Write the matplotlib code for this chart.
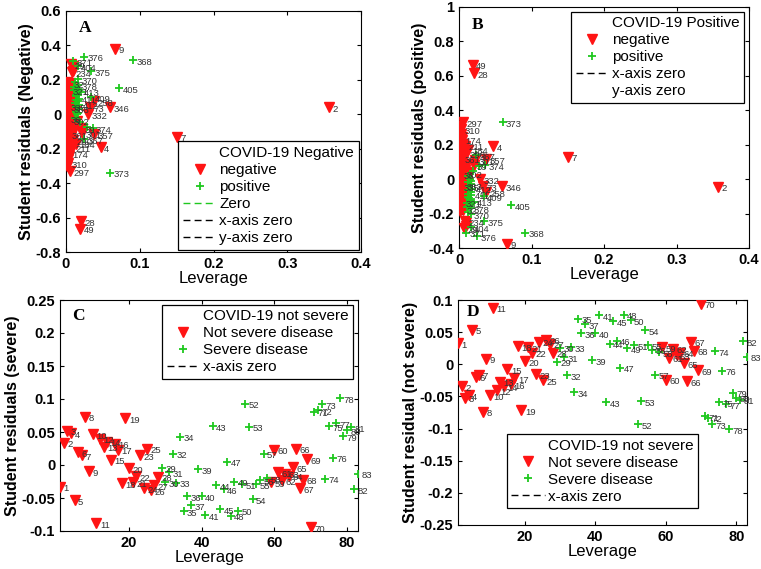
import matplotlib.pyplot as plt
from matplotlib.lines import Line2D
from matplotlib.ticker import FormatStrFormatter

plt.rcParams['font.family'] = ['Liberation Sans', 'DejaVu Sans']

RED = '#ff1414'
GREEN = '#1fc81f'

# ---- Panel A : COVID-19 negative (leverage, residual, label)
a_neg_x = [0.066, 0.357, 0.150, 0.047, 0.021, 0.019, 0.060, 0.038, 0.030, 0.038, 0.005, 0.003,
           0.004, 0.008, 0.007, 0.033, 0.020, 0.022, 0.010, 0.013, 0.008,
           0.002, 0.005, 0.003, 0.007, 0.002, 0.004, 0.006, 0.002, 0.005, 0.003, 0.008, 0.002,
           0.004, 0.006, 0.002, 0.005, 0.003, 0.007, 0.002, 0.004, 0.006, 0.002, 0.005, 0.003,
           0.008, 0.002, 0.004, 0.006, 0.002, 0.005, 0.003, 0.007, 0.002, 0.004, 0.006, 0.002,
           0.003, 0.005, 0.002, 0.004, 0.003, 0.002, 0.012, 0.015, 0.011, 0.010, 0.009]
a_neg_y = [0.380, 0.040, -0.130, -0.190, -0.620, -0.665, 0.040, 0.075, 0.000, -0.115, -0.330, -0.285,
           -0.225, 0.245, 0.290, 0.040, -0.080, -0.110, -0.150, -0.170, -0.195,
           0.190, 0.180, 0.168, 0.158, 0.150, 0.138, 0.128, 0.118, 0.105, 0.096, 0.086, 0.075,
           0.066, 0.055, 0.046, 0.035, 0.024, 0.015, 0.006, -0.004, -0.014, -0.025, -0.034, -0.046,
           -0.055, -0.066, -0.075, -0.086, -0.096, -0.108, -0.118, -0.126, -0.138, -0.148, -0.160, -0.172,
           -0.185, -0.205, -0.215, -0.245, -0.262, -0.300, 0.020, -0.040, -0.090, 0.250, 0.280]
a_neg_lab = ['9', '2', '7', '4', '28', '49', '346', '258', '332', '357', '297', '310',
             '174', '234', '29', '73', '39', '301', '290', '184', '211',
             '', '32', '', '', '', '321', '', '', '', '', '', '',
             '', '', '335', '383', '', '', '', '', '', '36', '302', '',
             '', '', '', '', '', '', '361', '', '', '', '', '',
             '', '', '', '', '', '', '', '', '', '', '']
a_pos_x = [0.025, 0.091, 0.010, 0.016, 0.034, 0.016, 0.016, 0.020, 0.072, 0.034, 0.036, 0.060,
           0.024, 0.017, 0.018,
           0.012, 0.014, 0.011, 0.015, 0.013, 0.016, 0.012, 0.014, 0.017, 0.013, 0.015, 0.012,
           0.019, 0.028, 0.014, 0.011, 0.018, 0.013, 0.016]
a_pos_y = [0.335, 0.315, 0.310, 0.280, 0.250, 0.205, 0.170, 0.130, 0.150, 0.100, -0.080, -0.340,
           -0.145, 0.090, 0.055,
           0.190, 0.155, 0.140, 0.120, 0.105, 0.075, 0.065, 0.040, 0.030, 0.015, 0.000, -0.020,
           -0.045, -0.075, 0.110, 0.160, 0.140, 0.085, 0.010]
a_pos_lab = ['376', '368', '371', '404', '375', '370', '378', '413', '405', '409', '374', '373',
             '367', '411', '412',
             '', '', '', '', '', '', '', '', '', '', '', '',
             '', '', '', '', '', '', '']

# ---- Panel B : COVID-19 positive
b_neg_x = [0.066, 0.357, 0.150, 0.047, 0.021, 0.019, 0.059, 0.037, 0.029, 0.037, 0.005, 0.003,
           0.004, 0.008, 0.007, 0.033, 0.020, 0.022, 0.010, 0.013, 0.008,
           0.002, 0.005, 0.003, 0.007, 0.002, 0.004, 0.006, 0.002, 0.005, 0.003, 0.008, 0.002,
           0.004, 0.006, 0.002, 0.005, 0.003, 0.007, 0.002, 0.004, 0.006, 0.002, 0.005, 0.003,
           0.008, 0.002, 0.004, 0.006, 0.002, 0.005, 0.003, 0.007, 0.002, 0.004, 0.006, 0.002,
           0.003, 0.005, 0.002, 0.004, 0.003, 0.002, 0.012, 0.015, 0.011, 0.010, 0.009]
b_neg_y = [-0.375, -0.045, 0.130, 0.190, 0.615, 0.665, -0.040, -0.075, 0.000, 0.115, 0.330, 0.290,
           0.230, -0.245, -0.285, -0.040, 0.080, 0.110, 0.150, 0.170, 0.195,
           -0.185, -0.178, -0.165, -0.155, -0.148, -0.136, -0.125, -0.116, -0.104, -0.094, -0.085, -0.074,
           -0.065, -0.054, -0.045, -0.034, -0.023, -0.014, -0.005, 0.005, 0.015, 0.026, 0.035, 0.047,
           0.056, 0.067, 0.076, 0.087, 0.097, 0.109, 0.119, 0.127, 0.139, 0.149, 0.161, 0.173,
           0.186, 0.206, 0.216, 0.246, 0.263, 0.310, -0.020, 0.040, 0.090, -0.250, -0.275]
b_neg_lab = ['9', '2', '7', '4', '28', '49', '346', '258', '332', '357', '297', '310',
             '174', '234', '29', '73', '39', '301', '290', '184', '211',
             '', '32', '', '', '', '321', '', '', '', '', '', '',
             '', '', '335', '383', '', '', '', '', '', '36', '302', '',
             '', '', '', '', '', '', '361', '', '', '', '', '',
             '', '', '', '', '', '', '', '', '', '', '']
b_pos_x = [0.025, 0.091, 0.010, 0.016, 0.034, 0.016, 0.016, 0.020, 0.072, 0.034, 0.036, 0.060,
           0.024, 0.017, 0.018,
           0.012, 0.014, 0.011, 0.015, 0.013, 0.016, 0.012, 0.014, 0.017, 0.013, 0.015, 0.012,
           0.019, 0.028, 0.014, 0.011, 0.018, 0.013, 0.016]
b_pos_y = [-0.330, -0.310, -0.310, -0.280, -0.245, -0.205, -0.170, -0.130, -0.150, -0.100, 0.080, 0.330,
           0.140, -0.090, -0.055,
           -0.190, -0.155, -0.140, -0.120, -0.105, -0.075, -0.065, -0.040, -0.030, -0.015, 0.000, 0.020,
           0.045, 0.075, -0.110, -0.160, -0.140, -0.085, -0.010]
b_pos_lab = ['376', '368', '371', '404', '375', '370', '378', '413', '405', '409', '374', '373',
             '367', '411', '412',
             '', '', '', '', '', '', '', '', '', '', '', '',
             '', '', '', '', '', '', '']

# ---- Panels C and D : severity, observation number on x
cd_neg_idx = [1, 2, 3, 4, 5, 6, 7, 8, 9, 10, 11, 12, 13, 14, 15, 16, 17, 18, 19, 20,
              21, 22, 23, 24, 25, 26, 27, 28, 59, 60, 61, 62, 63, 64, 65, 66, 67, 68, 69, 70]
cd_pos_idx = [29, 30, 31, 32, 33, 34, 35, 36, 37, 39, 40, 41, 43, 44, 45, 46, 47, 48, 49, 50,
              51, 52, 53, 54, 55, 56, 57, 58, 71, 72, 73, 74, 75, 76, 77, 78, 79, 80, 81, 82, 83]
c_neg_y = [-0.033, 0.034, 0.052, 0.048, -0.053, 0.019, 0.015, 0.073, -0.009, 0.047,
           -0.088, 0.040, 0.028, 0.035, 0.008, 0.032, 0.023, -0.028, 0.071, -0.005,
           -0.026, -0.017, 0.015, -0.035, 0.025, -0.038, -0.031, -0.018,
           -0.026, 0.023, -0.011, -0.023, -0.013, -0.016, -0.003, 0.025, -0.035, -0.022, 0.009, -0.094]
c_pos_y = [-0.004, -0.026, -0.011, 0.017, -0.027, 0.043, -0.070, -0.047, -0.061, -0.006,
           -0.047, -0.076, 0.059, -0.031, -0.067, -0.037, 0.005, -0.077, -0.025, -0.069,
           -0.029, 0.093, 0.058, -0.052, -0.029, -0.023, 0.017, -0.020,
           0.081, 0.083, 0.092, -0.021, 0.059, 0.011, 0.063, 0.101, 0.044, 0.053, 0.057, -0.037, -0.013]
d_neg_y = [0.033, -0.034, -0.052, -0.048, 0.054, -0.019, -0.016, -0.074, 0.009, -0.048,
           0.088, -0.040, -0.027, -0.034, -0.008, -0.031, -0.022, 0.028, -0.071, 0.005,
           0.027, 0.018, -0.015, 0.035, -0.025, 0.038, 0.032, 0.018,
           0.027, -0.024, 0.010, 0.024, 0.014, 0.018, 0.002, -0.026, 0.035, 0.021, -0.009, 0.094]
d_pos_y = [0.004, 0.026, 0.011, -0.017, 0.027, -0.043, 0.071, 0.048, 0.062, 0.006,
           0.048, 0.076, -0.059, 0.032, 0.067, 0.037, -0.005, 0.077, 0.025, 0.069,
           0.030, -0.093, -0.057, 0.053, 0.030, 0.023, -0.016, 0.019,
           -0.081, -0.083, -0.093, 0.020, -0.059, -0.010, -0.062, -0.101, -0.044, -0.052, -0.055, 0.036, 0.012]


def draw(ax, nx, ny, nl, px, py, pl):
    ax.plot(nx, ny, 'v', color=RED, ms=6.5, mec=RED, ls='none', zorder=3)
    ax.plot(px, py, '+', color=GREEN, ms=6, mew=1.3, ls='none', zorder=3)
    for x, y, t in list(zip(nx, ny, nl)) + list(zip(px, py, pl)):
        if t:
            ax.annotate(t, (x, y), xytext=(2.5, -1.5), textcoords='offset points',
                        fontsize=6.8, color='#333333', va='center', zorder=4)


def style(ax, ylabel, letter, lx, ly):
    ax.tick_params(direction='in', top=True, right=True, length=3, labelsize=10.5)
    for t in ax.get_xticklabels() + ax.get_yticklabels():
        t.set_fontweight('bold')
    ax.yaxis.set_major_formatter(FormatStrFormatter('%g'))
    ax.xaxis.set_major_formatter(FormatStrFormatter('%g'))
    ax.set_xlabel('Leverage', fontsize=12, labelpad=0)
    ax.set_ylabel(ylabel, fontsize=11.5, fontweight='bold', labelpad=1)
    ax.text(lx, ly, letter, transform=ax.transAxes, family='Liberation Serif',
            fontweight='bold', fontsize=12.5, va='center')


def legend(ax, title, names, lines, **kw):
    hs = [Line2D([], [], ls='none', label=title),
          Line2D([], [], marker='v', color=RED, ms=6.5, ls='none', label=names[0]),
          Line2D([], [], marker='+', color=GREEN, ms=6, mew=1.3, ls='none', label=names[1])]
    for lab, col in lines:
        if col is None:
            hs.append(Line2D([], [], ls='none', label=lab))
        else:
            hs.append(Line2D([], [], color=col, lw=1, ls=(0, (5, 3)), label=lab))
    lg = ax.legend(handles=hs, fontsize=11, frameon=True, fancybox=False, framealpha=1,
                   edgecolor='black', handlelength=2.2, handletextpad=0.2,
                   labelspacing=0.2, borderpad=0.3, **kw)
    lg.get_frame().set_linewidth(0.9)


fig = plt.figure(figsize=(7.61, 5.69), dpi=100)
W, H = 761, 569


def box(l, t, r, b):
    return [l / W, (H - b) / H, (r - l) / W, (b - t) / H]


axA = fig.add_axes(box(66, 11, 361, 252))
draw(axA, a_neg_x, a_neg_y, a_neg_lab, a_pos_x, a_pos_y, a_pos_lab)
axA.set_xlim(0, 0.4)
axA.set_ylim(-0.8, 0.6)
axA.set_xticks([0, 0.1, 0.2, 0.3, 0.4])
axA.set_yticks([-0.8, -0.6, -0.4, -0.2, 0, 0.2, 0.4, 0.6])
style(axA, 'Student residuals (Negative)', 'A', 0.045, 0.93)
legend(axA, 'COVID-19 Negative', ['negative', 'positive'],
       [('Zero', GREEN), ('x-axis zero', 'black'), ('y-axis zero', 'black')],
       loc='lower right', borderaxespad=0.15)

axB = fig.add_axes(box(459, 7, 749, 248))
draw(axB, b_neg_x, b_neg_y, b_neg_lab, b_pos_x, b_pos_y, b_pos_lab)
axB.set_xlim(0, 0.4)
axB.set_ylim(-0.4, 1.0)
axB.set_xticks([0, 0.1, 0.2, 0.3, 0.4])
axB.set_yticks([-0.4, -0.2, 0, 0.2, 0.4, 0.6, 0.8, 1])
style(axB, 'Student residuals (positive)', 'B', 0.045, 0.925)
legend(axB, 'COVID-19 Positive', ['negative', 'positive'],
       [('x-axis zero', 'black'), ('y-axis zero', None)],
       loc='upper right', borderaxespad=0.3)

axC = fig.add_axes(box(60, 300, 358, 531))
draw(axC, cd_neg_idx, c_neg_y, [str(i) for i in cd_neg_idx],
     cd_pos_idx, c_pos_y, [str(i) for i in cd_pos_idx])
axC.set_xlim(1, 83)
axC.set_ylim(-0.1, 0.25)
axC.set_xticks([20, 40, 60, 80])
axC.set_yticks([-0.1, -0.05, 0, 0.05, 0.1, 0.15, 0.2, 0.25])
style(axC, 'Student residuals (severe)', 'C', 0.04, 0.93)
legend(axC, 'COVID-19 not severe', ['Not severe disease', 'Severe disease'],
       [('x-axis zero', 'black')], loc='upper right', borderaxespad=0.3)

axD = fig.add_axes(box(458, 300, 747, 525))
draw(axD, cd_neg_idx, d_neg_y, [str(i) for i in cd_neg_idx],
     cd_pos_idx, d_pos_y, [str(i) for i in cd_pos_idx])
axD.set_xlim(1, 83)
axD.set_ylim(-0.25, 0.1)
axD.set_xticks([20, 40, 60, 80])
axD.set_yticks([-0.25, -0.2, -0.15, -0.1, -0.05, 0, 0.05, 0.1])
style(axD, 'Student residual (not severe)', 'D', 0.03, 0.945)
legend(axD, 'COVID-19 not severe', ['Not severe disease', 'Severe disease'],
       [('x-axis zero', 'black')], loc='lower center', bbox_to_anchor=(0.5, 0.04))

fig.savefig('out.png', dpi=100)
